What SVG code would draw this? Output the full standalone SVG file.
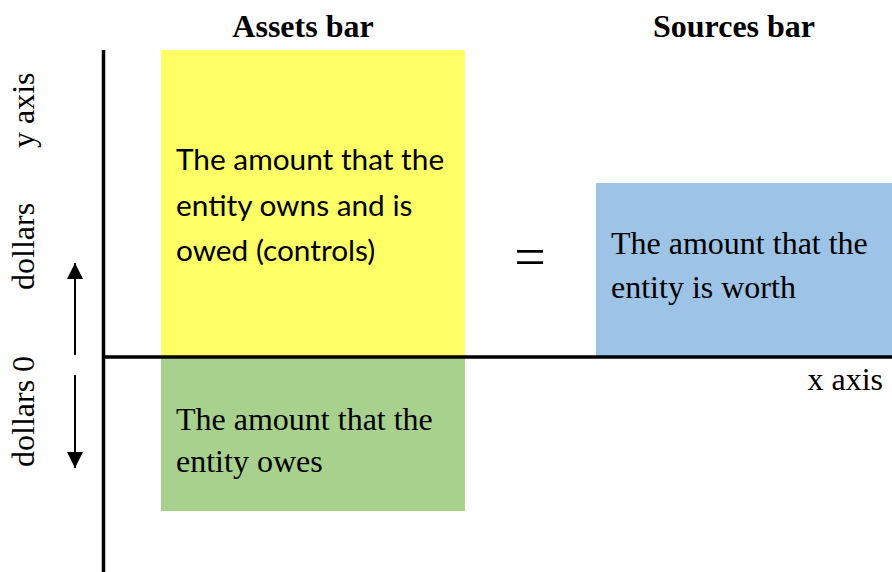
<svg xmlns="http://www.w3.org/2000/svg" width="892" height="572" viewBox="0 0 892 572">
<style>
.serif{font-family:"Liberation Serif","Times New Roman",serif;fill:#000}
.head{font-size:32px;font-weight:bold}
.body{font-size:32px}
.sans{font-family:Lato,"Liberation Sans",sans-serif;font-size:29.8px;fill:#000}
.axis{stroke:#000;stroke-width:3.5;fill:none}
.arr{stroke:#000;stroke-width:2;fill:none}
</style>
<defs>
<marker id="ah" viewBox="0 0 16 16" refX="16" refY="8" markerWidth="16" markerHeight="16" markerUnits="userSpaceOnUse" orient="auto">
<path d="M0,0 L16,8 L0,16 Z" fill="#000"/>
</marker>
</defs>
<rect width="892" height="572" fill="#fff"/>
<g id="assets-upper">
<rect x="161" y="50" width="304" height="306" fill="#FFFF66"/>
<text class="sans" x="176" y="170">The amount that the</text>
<text class="sans" x="176" y="215.5">entity owns and is</text>
<text class="sans" x="176" y="261">owed (controls)</text>
</g>
<g id="assets-lower">
<rect x="161" y="357" width="304" height="154" fill="#A9D18E"/>
<text class="serif body" x="176" y="430">The amount that the</text>
<text class="serif body" x="176" y="472">entity owes</text>
</g>
<g id="sources">
<rect x="596" y="183" width="296" height="173" fill="#9DC3E6"/>
<text class="serif body" x="611" y="254">The amount that the</text>
<text class="serif body" x="611" y="298">entity is worth</text>
</g>
<g id="equals">
<text class="serif" x="530" y="276" font-size="56" text-anchor="middle">=</text>
</g>
<g id="headings">
<text class="serif head" x="303" y="37" text-anchor="middle">Assets bar</text>
<text class="serif head" x="734" y="37" text-anchor="middle">Sources bar</text>
</g>
<g id="axes">
<line class="axis" x1="103.5" y1="50" x2="103.5" y2="572"/>
<line class="axis" x1="103.5" y1="357" x2="892" y2="357"/>
<text class="serif body" x="883" y="390" text-anchor="end">x axis</text>
<text class="serif body" transform="translate(34,148) rotate(-90)">y axis</text>
<text class="serif body" transform="translate(34,290) rotate(-90)">dollars</text>
<text class="serif body" transform="translate(34,467) rotate(-90)">dollars 0</text>
</g>
<g id="connectors">
<line class="arr" x1="75" y1="355" x2="75" y2="263" marker-end="url(#ah)"/>
<line class="arr" x1="75" y1="375" x2="75" y2="468" marker-end="url(#ah)"/>
</g>
</svg>
